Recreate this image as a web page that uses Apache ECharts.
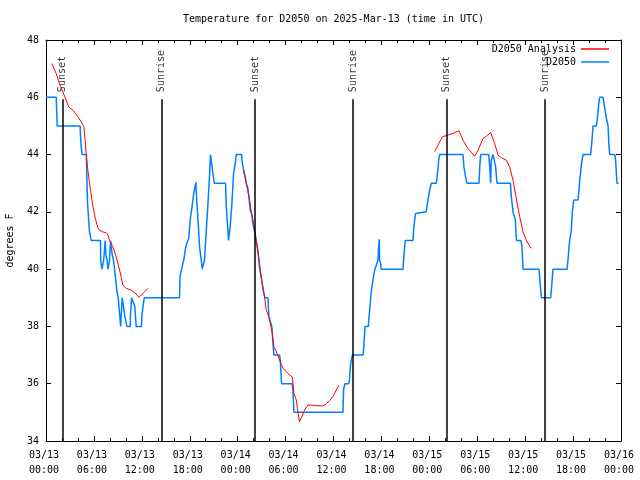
<!DOCTYPE html>
<html>
<head>
<meta charset="utf-8">
<script src="https://cdn.jsdelivr.net/npm/echarts@6/dist/echarts.min.js"></script>
<style>html,body{margin:0;padding:0;background:#fff}#c{width:640px;height:480px}</style>
</head>
<body>
<div id="c"></div>
<script>
// Time is in hours since 03/13 00:00 UTC
const titleText = 'Temperature for D2050 on 2025-Mar-13 (time in UTC)';
const yAxisName = 'degrees F';
const xMin = 0, xMax = 72, xStep = 6;
const yMin = 34, yMax = 48, yStep = 2;

// D2050 observations [hour, degF]
const obs = [[0,46],[1.28,46],[1.4,45],[4.28,45],[4.3,44.74],[4.4,44.3],[4.53,44],[5.05,44],[5.1,43.4],[5.2,42.3],[5.3,42.3],[5.45,41.3],[5.66,41],[6.83,41],[6.85,40.3],[7.0,40],[7.2,40],[7.22,40.3],[7.41,41],[7.5,40.5],[7.66,40.3],[7.75,40],[7.93,40],[7.95,40.3],[8.08,41],[8.29,40.5],[8.46,40.3],[8.87,39.27],[9.04,39],[9.25,39],[9.35,38],[9.5,38],[9.54,39],[9.7,38.7],[9.88,38.34],[10.13,38],[10.55,38],[10.57,38.34],[10.71,39],[10.96,39],[11.12,38.7],[11.29,38],[11.96,38],[12.0,38.34],[12.15,38.7],[12.3,39],[16.72,39],[16.78,39.73],[17.04,40.08],[17.29,40.37],[17.46,40.72],[17.62,40.9],[17.87,41.07],[18.08,41.77],[18.29,42.18],[18.5,42.64],[18.66,42.87],[18.77,43.03],[18.81,42.7],[19.02,41.77],[19.23,40.78],[19.44,40.32],[19.56,40],[19.77,40],[19.85,40.32],[20.07,41.36],[20.27,42.23],[20.48,43.28],[20.6,44],[20.73,44],[20.9,43.34],[21.07,43],[22.49,43],[22.57,42.18],[22.78,41.36],[22.86,41],[22.99,41],[23.07,41.5],[23.28,42.3],[23.49,43.34],[23.7,43.7],[23.82,44],[24.49,44],[24.55,43.75],[24.74,43.46],[24.95,43.2],[25.08,43],[25.3,42.8],[25.45,42.4],[25.58,42.06],[25.78,41.9],[25.9,41.6],[26.08,41.36],[26.3,41.0],[26.45,40.78],[26.65,40.3],[26.79,39.97],[26.95,39.7],[27.1,39.45],[27.25,39.2],[27.41,39],[27.79,39],[27.91,38.34],[28.29,37.99],[28.42,37.41],[28.54,37],[29.25,37],[29.33,36.83],[29.5,36],[30.84,36],[30.92,35.78],[31.05,35],[37.18,35],[37.26,35.78],[37.43,36],[37.89,36],[38.0,36.13],[38.13,36.65],[38.35,37],[39.69,37],[39.8,37.29],[39.94,38],[40.36,38],[40.44,38.3],[40.6,38.8],[40.7,39.15],[40.82,39.38],[40.94,39.62],[41.07,39.85],[41.19,40],[41.36,40],[41.57,40.32],[41.65,40.78],[41.73,41.04],[41.77,40.32],[41.9,40.2],[41.98,40],[44.7,40],[44.78,40.32],[44.91,40.78],[44.99,41],[45.95,41],[46.03,41.36],[46.16,41.71],[46.28,41.94],[46.45,42],[47.62,42],[47.7,42.18],[47.83,42.41],[48.04,42.76],[48.25,43],[48.88,43],[49.09,43.51],[49.17,43.8],[49.29,44],[52.21,44],[52.33,43.57],[52.54,43.22],[52.71,43],[54.22,43],[54.31,43.57],[54.43,44],[55.43,44],[55.56,43.57],[55.68,43],[55.76,43.8],[55.97,44],[56.18,44],[56.3,43.57],[56.47,43],[58.15,43],[58.27,42.52],[58.48,42],[58.69,42],[58.77,41.71],[58.9,41],[59.48,41],[59.6,40.78],[59.73,40],[61.73,40],[61.81,39.73],[61.94,39.27],[62.03,39],[63.2,39],[63.28,39.27],[63.41,39.73],[63.49,40],[65.24,40],[65.36,40.32],[65.49,40.78],[65.58,41],[65.78,41.36],[65.91,42],[66.08,42.41],[66.62,42.41],[66.74,42.76],[66.83,43.1],[66.95,43.4],[67.03,43.63],[67.16,43.86],[67.24,44],[68.2,44],[68.37,44.5],[68.5,45],[68.92,45],[69.04,45.26],[69.21,45.76],[69.33,46],[69.75,46],[69.88,45.76],[70.17,45.26],[70.38,45],[70.5,44.27],[70.59,44],[71.21,44],[71.33,43.8],[71.42,43.34],[71.5,43],[71.7,43]];

// D2050 Analysis, three separate runs [hour, degF]
const anaRun1 = [[0.73,47.18],[1.28,46.83],[1.69,46.48],[2.1,46.19],[2.53,45.9],[2.86,45.66],[3.36,45.55],[3.99,45.32],[4.41,45.14],[4.74,44.97],[4.9,44.5],[5.03,44.04],[5.24,43.46],[5.45,43.0],[5.66,42.6],[5.87,42.2],[6.08,41.9],[6.29,41.65],[6.49,41.45],[6.7,41.36],[7.12,41.3],[7.54,41.27],[7.75,41.19],[7.95,41.01],[8.37,40.78],[8.79,40.43],[9.21,39.97],[9.41,39.73],[9.62,39.44],[10.04,39.33],[10.67,39.27],[11.29,39.13],[11.63,39.01],[12.13,39.15],[12.76,39.33]];
const anaRun2 = [[24.74,43.46],[25.08,43.0],[25.5,42.41],[25.74,41.94],[26.0,41.6],[26.33,41.01],[26.58,40.55],[26.83,39.97],[27.08,39.5],[27.37,39.03],[27.58,38.57],[27.91,38.34],[28.33,37.76],[28.54,37.29],[28.83,37.12],[29.25,36.83],[29.67,36.54],[30.09,36.42],[30.5,36.3],[30.84,36.24],[31.05,35.66],[31.34,35.43],[31.54,35.02],[31.75,34.67],[32.38,35.08],[32.8,35.26],[34.68,35.22],[35.1,35.3],[35.51,35.41],[35.93,35.55],[36.35,35.78],[36.68,35.95]];
const anaRun3 = [[48.67,44.1],[49.08,44.33],[49.63,44.62],[50.33,44.68],[50.96,44.74],[51.71,44.83],[52.21,44.5],[52.84,44.21],[53.68,43.94],[54.09,44.15],[54.72,44.56],[55.14,44.64],[55.68,44.77],[56.18,44.39],[56.6,43.98],[57.02,43.89],[57.65,43.8],[58.06,43.57],[58.48,43.1],[58.9,42.45],[59.31,41.83],[59.73,41.3],[60.15,41.01],[60.48,40.84],[60.78,40.72]];

// Sun events [hour, label]
const sunTimes = [2.11, 14.5, 26.16, 38.43, 50.2, 62.48];
const sunNames = ['Sunset','Sunrise','Sunset','Sunrise','Sunset','Sunrise'];
const sunLineTop = 45.93;   // top of the event line (degF)
const sunLabelBase = 46.18; // where the rotated label starts (degF)

const FONT = 'DejaVu Sans Mono';
const RED = '#ff0000', BLUE = '#0080ff';

function xLabel(v) {
  const day = 13 + Math.floor(v / 24);
  const hr = v % 24;
  return '03/' + String(day).padStart(2,'0') + '\n' + String(hr).padStart(2,'0') + ':00';
}

const baseX = {
  type: 'value', min: xMin, max: xMax, interval: xStep,
  axisLine: {show: true, onZero: false, lineStyle: {color: '#000', width: 1}},
  axisTick: {show: true, inside: true, length: 5, lineStyle: {color: '#000'}},
  minorTick: {show: true, splitNumber: 3, length: 3, lineStyle: {color: '#000'}},
  splitLine: {show: false}
};
const baseY = {
  type: 'value', min: yMin, max: yMax, interval: yStep,
  axisLine: {show: true, onZero: false, lineStyle: {color: '#000', width: 1}},
  axisTick: {show: true, inside: true, length: 5, lineStyle: {color: '#000'}},
  splitLine: {show: false}
};

const chart = echarts.init(document.getElementById('c'), null, {renderer: 'canvas'});
const textBase = {fontFamily: FONT, fontSize: 10, color: '#000'};

const analysisSeries = [anaRun1, anaRun2, anaRun3].map(run => ({
  name: 'D2050 Analysis', type: 'line', data: run, showSymbol: false, symbol: 'none',
  lineStyle: {color: RED, width: 1}, itemStyle: {color: RED}, z: 3, animation: false
}));

chart.setOption({
  animation: false,
  title: {text: titleText, left: 183, top: 14, padding: 0, textStyle: Object.assign({}, textBase, {fontWeight: 'normal'})},
  grid: {left: 46, right: 19, top: 40, bottom: 39, containLabel: false, outerBoundsMode: 'none'},
  legend: [
    {data: ['D2050 Analysis'], right: 31, top: 44, padding: 0, align: 'right', icon: 'rect', itemWidth: 28, itemHeight: 1.5, textStyle: textBase},
    {data: ['D2050'], right: 31, top: 57, padding: 0, align: 'right', icon: 'rect', itemWidth: 28, itemHeight: 1.5, textStyle: textBase}
  ],
  xAxis: [
    Object.assign({}, baseX, {position: 'bottom', axisLabel: Object.assign({}, textBase, {margin: 7, lineHeight: 15, padding: [0, 4, 0, 0], formatter: xLabel})}),
    Object.assign({}, baseX, {position: 'top', axisLabel: {show: false}})
  ],
  yAxis: [
    Object.assign({}, baseY, {position: 'left', name: yAxisName, nameLocation: 'middle', nameRotate: 90, nameGap: 31,
      nameTextStyle: textBase, axisLabel: Object.assign({}, textBase, {margin: 7})}),
    Object.assign({}, baseY, {position: 'right', axisLabel: {show: false}})
  ],
  series: [
    {
      name: 'D2050', type: 'line', data: obs, showSymbol: false, symbol: 'none',
      lineStyle: {color: BLUE, width: 1.5}, itemStyle: {color: BLUE}, z: 2
    },
    ...analysisSeries,
    {
      name: 'sun', type: 'scatter', symbolSize: 0, silent: true, z: 1,
      data: sunTimes.map((t, i) => ({value: [t, sunLabelBase], name: sunNames[i]})),
      label: {show: true, position: 'inside', rotate: 90, align: 'left', verticalAlign: 'middle',
        formatter: p => p.name, fontFamily: FONT, fontSize: 10, color: '#000'},
      markLine: {
        silent: true, symbol: ['none','none'], label: {show: false},
        lineStyle: {color: '#000', width: 1.5, type: 'solid'},
        data: sunTimes.map(t => [{coord: [t, yMin]}, {coord: [t, sunLineTop]}])
      }
    }
  ]
});
</script>
</body>
</html>
